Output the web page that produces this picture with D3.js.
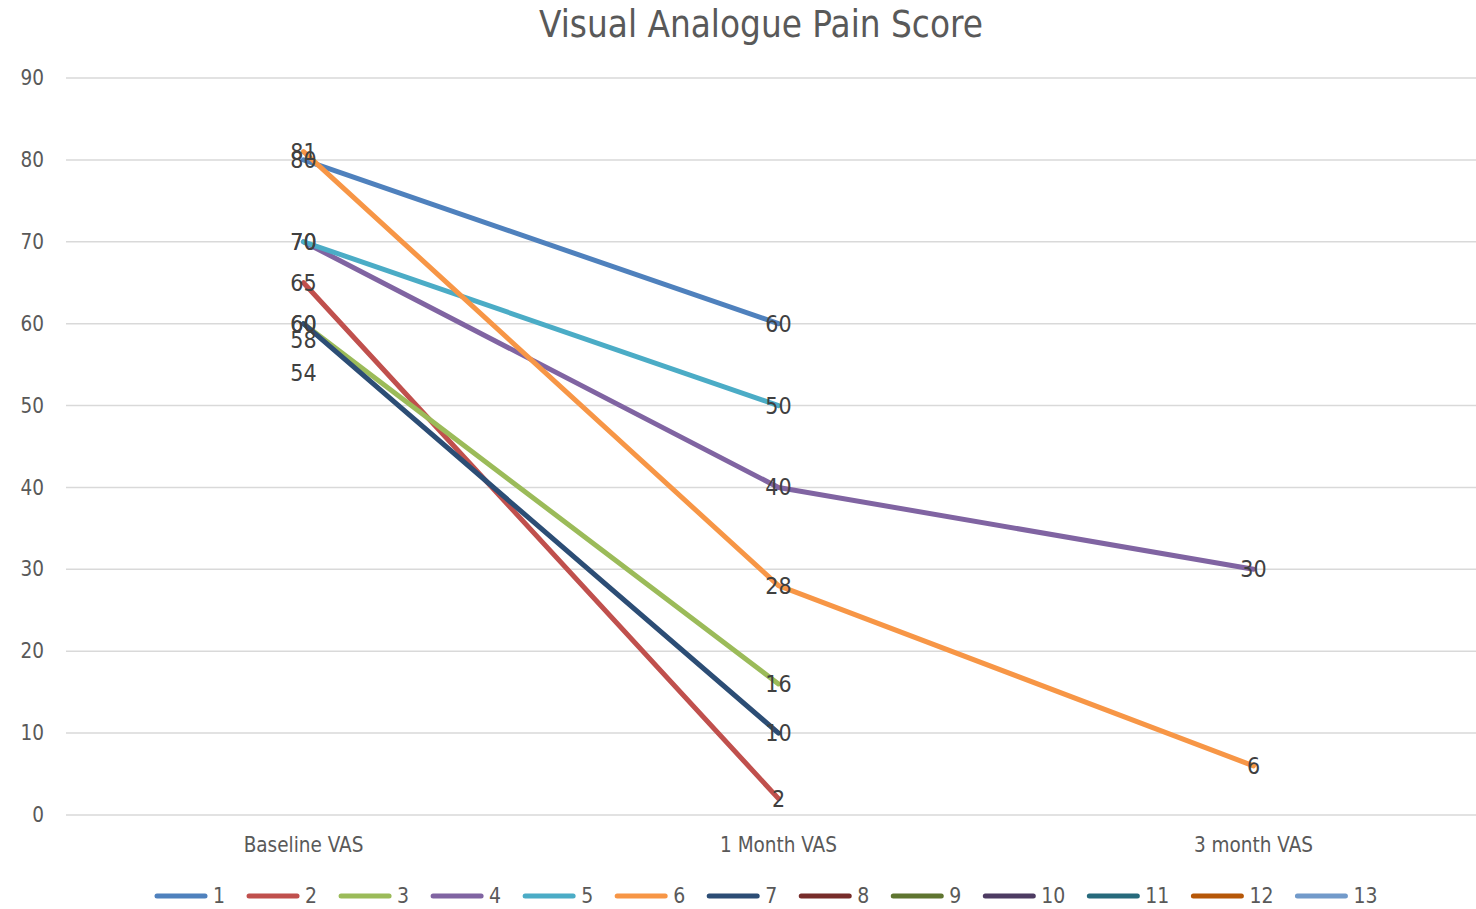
<!DOCTYPE html>
<html>
<head>
<meta charset="utf-8">
<script src="https://cdn.jsdelivr.net/npm/d3@7"></script>
<style>
  body { margin: 0; background: #fff; }
  svg { display: block; }
</style>
</head>
<body>
<svg id="chart" width="1476" height="909"></svg>
<script>
// categories on the x axis
const categories = ['Baseline VAS', '1 Month VAS', '3 month VAS']
// one series per patient, null where no value was recorded
const seriesNames = ['1', '2', '3', '4', '5', '6', '7', '8', '9', '10', '11', '12', '13']
const seriesValues = [
  [80, 60, null],
  [65, 2, null],
  [60, 16, null],
  [70, 40, 30],
  [70, 50, null],
  [81, 28, 6],
  [60, 10, null],
  [58, null, null],
  [54, null, null],
  [null, null, null],
  [null, null, null],
  [null, null, null],
  [null, null, null]
]
const yTicks = [0, 10, 20, 30, 40, 50, 60, 70, 80, 90]
const colors = ['#4F81BD', '#C0504D', '#9BBB59', '#8064A2', '#4BACC6', '#F79646',
  '#2C4D75', '#772C2A', '#5F7530', '#4D3B62', '#276A7C', '#B65708', '#729ACA']

const svg = d3.select('#chart')
const font = '"DejaVu Sans Condensed", "Liberation Sans Narrow", sans-serif'
const margin = {left: 66, right: -15, top: 78, bottom: 94}
const width = 1476, height = 909

const x = d3.scaleBand()
  .domain(categories)
  .range([margin.left, width - margin.right])
const y = d3.scaleLinear()
  .domain([0, 90])
  .range([height - margin.bottom, margin.top])

// title
svg.append('text')
  .attr('x', 761).attr('y', 37)
  .attr('text-anchor', 'middle')
  .style('font-family', font)
  .style('font-size', '36.5px')
  .style('fill', '#595959')
  .text('Visual Analogue Pain Score')

// gridlines
svg.append('g')
  .selectAll('line')
  .data(yTicks)
  .join('line')
  .attr('x1', margin.left).attr('x2', width)
  .attr('y1', d => y(d)).attr('y2', d => y(d))
  .attr('stroke', '#d9d9d9')
  .attr('stroke-width', 1.5)

// y axis labels
const yAxis = svg.append('g')
  .attr('transform', `translate(${margin.left - 22},0)`)
  .call(d3.axisLeft(y).tickValues(yTicks).tickSize(0).tickPadding(0))
yAxis.select('.domain').remove()
yAxis.selectAll('text')
  .style('font-family', font)
  .style('font-size', '20.5px')
  .style('fill', '#595959')

// x axis labels
const xAxis = svg.append('g')
  .attr('transform', `translate(0,${y(0)})`)
  .call(d3.axisBottom(x).tickSize(0).tickPadding(22))
xAxis.select('.domain').remove()
xAxis.selectAll('text')
  .style('font-family', font)
  .style('font-size', '20.5px')
  .style('fill', '#595959')

const cx = (i) => x(categories[i]) + x.bandwidth() / 2

// lines (a series with a single point gets no visible line, like the original)
const line = d3.line()
  .defined(d => d != null)
  .x((d, i) => cx(i))
  .y(d => y(d))

svg.append('g')
  .selectAll('path')
  .data(seriesValues)
  .join('path')
  .attr('d', d => d.filter(v => v != null).length > 1 ? line(d) : null)
  .attr('fill', 'none')
  .attr('stroke', (d, i) => colors[i])
  .attr('stroke-width', 5)
  .attr('stroke-linecap', 'round')
  .attr('stroke-linejoin', 'round')

// data labels, centred on each point
const points = []
seriesValues.forEach((vals, s) => vals.forEach((v, i) => {
  if (v != null) points.push({s, i, v})
}))
svg.append('g')
  .selectAll('text')
  .data(points)
  .join('text')
  .attr('x', d => cx(d.i))
  .attr('y', d => y(d.v))
  .attr('dy', '0.35em')
  .attr('text-anchor', 'middle')
  .style('font-family', font)
  .style('font-size', '23px')
  .style('fill', '#404040')
  .text(d => d.v)

// legend
const legend = svg.append('g').attr('transform', 'translate(157,896)')
let lx = 0
seriesNames.forEach((name, i) => {
  const item = legend.append('g').attr('transform', `translate(${lx},0)`)
  item.append('line')
    .attr('x1', 0).attr('x2', 48)
    .attr('stroke', colors[i])
    .attr('stroke-width', 5)
    .attr('stroke-linecap', 'round')
  const t = item.append('text')
    .attr('x', 56).attr('dy', '0.35em')
    .style('font-family', font)
    .style('font-size', '21px')
    .style('fill', '#595959')
    .text(name)
  lx += 56 + t.node().getComputedTextLength() + 24
})
</script>
</body>
</html>
